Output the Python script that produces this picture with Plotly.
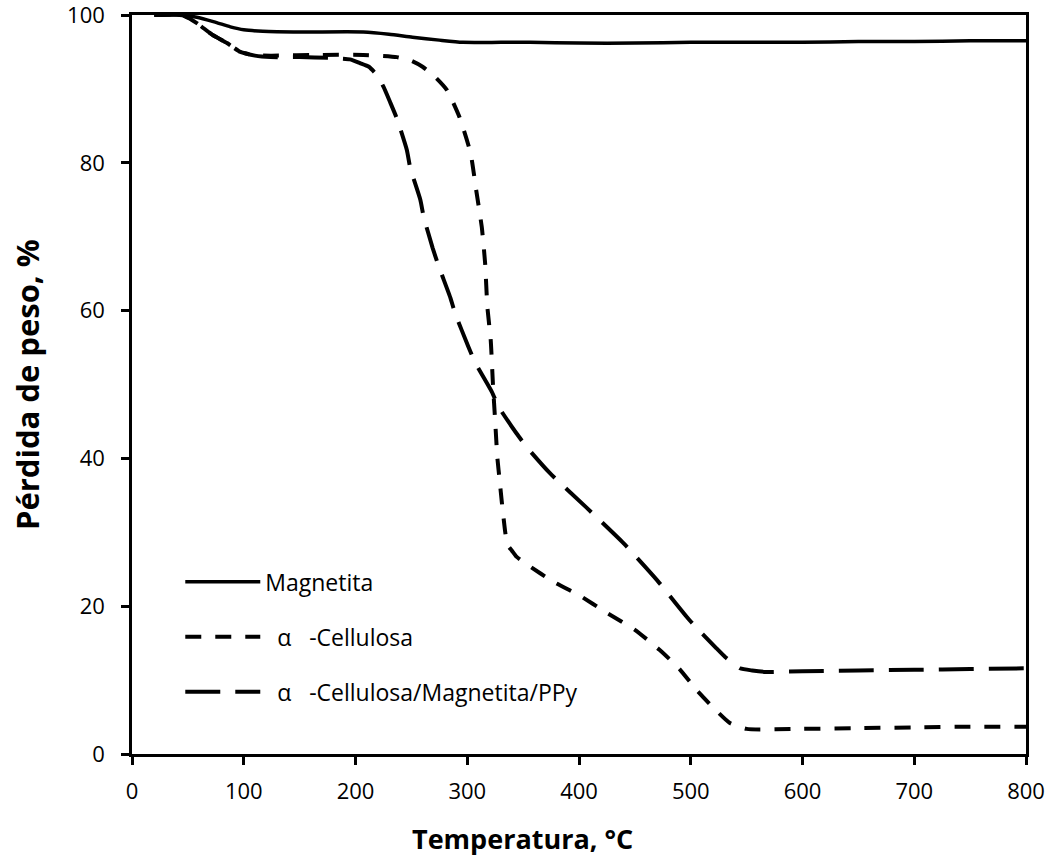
import plotly.graph_objects as go

# Magnetita
mag_T = [20, 40, 58, 75, 88, 100, 117, 150, 207, 230, 251, 275, 296, 330, 356, 400, 450, 500, 550, 600, 650, 700, 750, 800]
mag_W = [100, 100, 99.7, 99.0, 98.4, 98.0, 97.8, 97.7, 97.7, 97.4, 97.0, 96.6, 96.3, 96.3, 96.3, 96.2, 96.2, 96.3, 96.3, 96.3, 96.4, 96.4, 96.5, 96.5]

# alpha-Cellulosa
cel_T = [20, 45, 58, 72, 85, 97, 108, 124, 170, 207, 237, 250, 260, 272, 282, 293, 303, 308, 313, 316, 318, 321, 323, 325, 327, 329, 331, 334, 336, 340, 344, 354, 377, 400, 425, 450, 472, 490, 505, 520, 535, 550, 600, 650, 700, 750, 800]
cel_W = [100, 100, 98.9, 97.3, 96.2, 95.0, 94.6, 94.5, 94.6, 94.6, 94.3, 93.8, 93.0, 91.5, 89.8, 86.2, 81.3, 76.3, 71.3, 66.4, 60.5, 56, 50, 45, 40, 37, 34, 30, 28.3, 27.5, 26.7, 25.6, 23.3, 21.5, 19.1, 16.8, 14.1, 11.5, 8.7, 6.3, 4.2, 3.4, 3.4, 3.5, 3.6, 3.7, 3.7]

# alpha-Cellulosa/Magnetita/PPy
com_T = [20, 45, 58, 72, 85, 97, 110, 124, 150, 177, 195, 204, 212, 219, 225, 231, 237, 246, 249, 258, 261, 269, 274, 285, 289, 301, 307, 322, 328, 344, 354, 374, 407, 440, 470, 499, 523, 531, 544, 555, 568, 600, 650, 700, 750, 800]
com_W = [100, 100, 98.9, 97.3, 96.2, 95.0, 94.5, 94.3, 94.3, 94.2, 94.0, 93.5, 93.0, 91.9, 90.3, 88.2, 86.0, 81.7, 79.3, 75.0, 72.7, 68.5, 66.2, 61.7, 59.7, 55.1, 53.0, 49.0, 47.0, 43.4, 41.4, 38.0, 33.3, 28.5, 23.5, 18.1, 14.3, 13.1, 11.6, 11.3, 11.1, 11.2, 11.3, 11.4, 11.5, 11.6]

names = ["Magnetita", "\u00a0\u00a0α\u00a0\u00a0\u00a0-Cellulosa", "\u00a0\u00a0α\u00a0\u00a0\u00a0-Cellulosa/Magnetita/PPy"]

fig = go.Figure()
fig.add_trace(go.Scatter(x=mag_T, y=mag_W, mode="lines", name=names[0], legendgroup="a",
                         line=dict(color="black", width=3.5, shape="spline", smoothing=0.6)))
fig.add_trace(go.Scatter(x=cel_T, y=cel_W, mode="lines", name=names[1], legendgroup="b",
                         line=dict(color="black", width=4, dash="16px,14px", shape="spline", smoothing=0.5)))
fig.add_trace(go.Scatter(x=com_T, y=com_W, mode="lines", name=names[2], legendgroup="c",
                         line=dict(color="black", width=4, dash="35px,15px", shape="spline", smoothing=0.5)))

FONT = "Open Sans"
axis_common = dict(showline=True, linecolor="black", linewidth=2.5, mirror=True,
                   ticks="outside", ticklen=8, tickwidth=2.5, tickcolor="black",
                   showgrid=False, zeroline=False, automargin=False,
                   ticklabeloverflow="allow",
                   tickfont=dict(family=FONT, size=22, color="black"))

fig.update_layout(
    width=1053, height=861,
    margin=dict(l=132, r=27, t=15, b=107),
    paper_bgcolor="white", plot_bgcolor="white",
    showlegend=True,
    legend=dict(x=0.054, y=0.262, xanchor="left", yanchor="top",
                bgcolor="rgba(0,0,0,0)", borderwidth=0,
                font=dict(family=FONT, size=23, color="black"),
                itemwidth=75, tracegroupgap=22),
    xaxis=dict(range=[0, 800], dtick=100, tick0=0, ticklabelstandoff=8, **axis_common),
    yaxis=dict(range=[0, 100], dtick=20, tick0=0, ticklabelstandoff=12, **axis_common),
    annotations=[
        dict(text="<b>Temperatura, °C</b>", xref="paper", yref="paper",
             x=0.437, y=-0.115, xanchor="center", yanchor="middle", showarrow=False,
             font=dict(family=FONT, size=27, color="black")),
        dict(text="<b>Pérdida de peso, %</b>", xref="paper", yref="paper",
             x=-0.118, y=0.5, xanchor="center", yanchor="middle", showarrow=False,
             textangle=-90, font=dict(family=FONT, size=31, color="black")),
    ],
)

fig.write_html("out.html")
